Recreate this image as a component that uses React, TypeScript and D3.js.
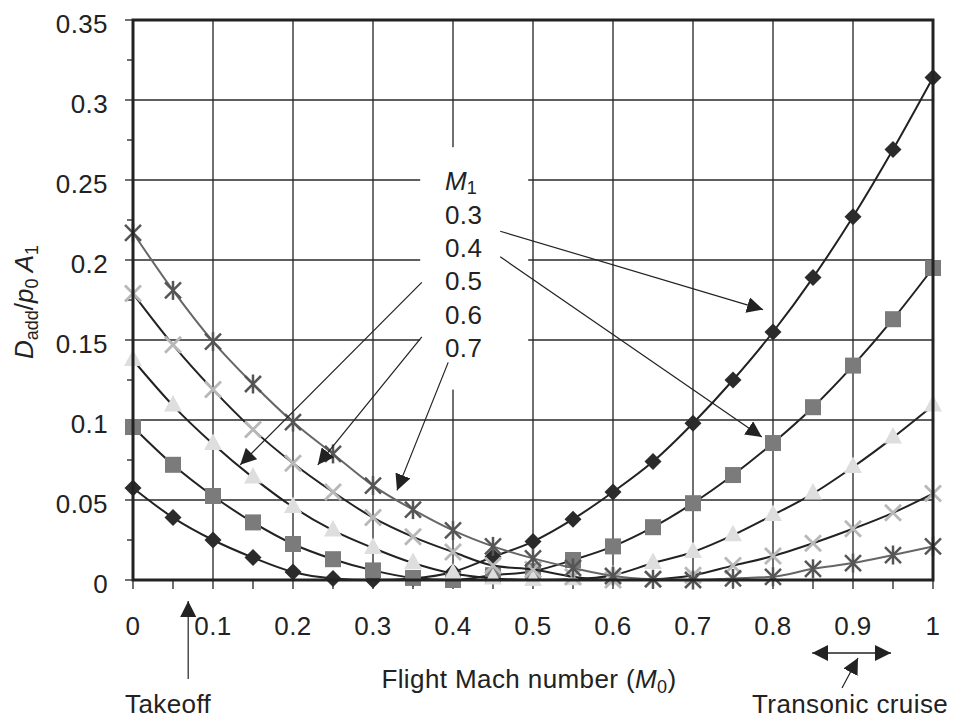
import React, { useEffect, useRef } from 'react';
import * as d3 from 'd3';

// flight Mach number M0, one marker every 0.05
const machNumbers = [0, 0.05, 0.1, 0.15, 0.2, 0.25, 0.3, 0.35, 0.4, 0.45, 0.5, 0.55, 0.6, 0.65, 0.7, 0.75, 0.8, 0.85, 0.9, 0.95, 1.0];

// D_add / p0 A1 for each inlet Mach number M1
const dragM03 = [0.0575, 0.039, 0.025, 0.014, 0.005, 0.001, 0, 0.001, 0.005, 0.0145, 0.024, 0.038, 0.055, 0.074, 0.098, 0.125, 0.155, 0.189, 0.227, 0.269, 0.314];
const dragM04 = [0.0956, 0.072, 0.0525, 0.036, 0.0225, 0.013, 0.006, 0.0013, 0, 0.003, 0.0055, 0.0125, 0.021, 0.033, 0.048, 0.0656, 0.0856, 0.108, 0.134, 0.163, 0.195];
const dragM05 = [0.1375, 0.109, 0.085, 0.064, 0.0456, 0.031, 0.02, 0.0106, 0.004, 0.001, 0, 0.0005, 0.003, 0.0106, 0.0175, 0.028, 0.0406, 0.054, 0.0706, 0.089, 0.109];
const dragM06 = [0.179, 0.147, 0.119, 0.094, 0.073, 0.055, 0.039, 0.027, 0.0175, 0.009, 0.0065, 0.002, 0, 0.0005, 0.003, 0.009, 0.015, 0.023, 0.032, 0.042, 0.054];
const dragM07 = [0.217, 0.181, 0.149, 0.1225, 0.0987, 0.0788, 0.059, 0.044, 0.031, 0.021, 0.0135, 0.0075, 0.0025, 0.0005, 0, 0.001, 0.002, 0.007, 0.0106, 0.0156, 0.021];

const inletLabels = ['0.3', '0.4', '0.5', '0.6', '0.7'];
const xTicks = [0, 0.1, 0.2, 0.3, 0.4, 0.5, 0.6, 0.7, 0.8, 0.9, 1];
const xTickLabels = ['0', '0.1', '0.2', '0.3', '0.4', '0.5', '0.6', '0.7', '0.8', '0.9', '1'];
const yTicks = [0, 0.05, 0.1, 0.15, 0.2, 0.25, 0.3, 0.35];
const yTickLabels = ['0', '0.05', '0.1', '0.15', '0.2', '0.25', '0.3', '0.35'];

// leader arrows from the M1 list: [fromM0, fromD, toM0, toD]
const leaderArrows = [
  [0.459, 0.218, 0.7875, 0.169],
  [0.459, 0.202, 0.786, 0.0894],
  [0.361, 0.186, 0.134, 0.072],
  [0.361, 0.152, 0.231, 0.072],
  [0.394, 0.136, 0.33, 0.056],
];

const series = [
  { values: dragM03, marker: 'diamond', fill: '#2b2b2b', line: '#222' },
  { values: dragM04, marker: 'square', fill: '#7b7b7b', line: '#222' },
  { values: dragM05, marker: 'triangle', fill: '#dedede', line: '#222' },
  { values: dragM06, marker: 'cross', fill: '#b8b8b8', line: '#222' },
  { values: dragM07, marker: 'star', fill: '#555', line: '#666' },
];

const App = () => {
  const svgRef = useRef<SVGSVGElement>(null);

  useEffect(() => {
    const width = 955;
    const height = 721;
    const margin = { top: 20, right: 22, bottom: 141, left: 133 };
    const font = '"Liberation Sans", Arial, Helvetica, sans-serif';
    const ink = '#222';
    const fs = 26;
    const sub = 18;
    const ls = 0.4;

    const svg = d3.select(svgRef.current)
      .attr('width', width)
      .attr('height', height);
    svg.selectAll('*').remove();

    const x = d3.scaleLinear().domain([0, 1]).range([margin.left, width - margin.right]);
    const y = d3.scaleLinear().domain([0, 0.35]).range([height - margin.bottom, margin.top]);

    const defs = svg.append('defs');
    defs.append('marker')
      .attr('id', 'head')
      .attr('viewBox', '0 0 10 10')
      .attr('refX', 10)
      .attr('refY', 5)
      .attr('markerWidth', 16)
      .attr('markerHeight', 16)
      .attr('markerUnits', 'userSpaceOnUse')
      .attr('orient', 'auto-start-reverse')
      .append('path')
      .attr('d', 'M0,0 L10,5 L0,10 Z')
      .attr('fill', ink);

    svg.append('rect').attr('width', width).attr('height', height).attr('fill', '#fff');

    // grid
    const g = svg.append('g');
    g.selectAll('.vgrid')
      .data(xTicks.slice(1, -1))
      .join('line')
      .attr('x1', d => x(d)).attr('x2', d => x(d))
      .attr('y1', y(0.35)).attr('y2', y(0))
      .attr('stroke', '#333').attr('stroke-width', 1.4);
    g.selectAll('.hgrid')
      .data(yTicks.slice(1, -1))
      .join('line')
      .attr('x1', x(0)).attr('x2', x(1))
      .attr('y1', d => y(d)).attr('y2', d => y(d))
      .attr('stroke', '#2a2a2a').attr('stroke-width', 1.4);

    // white block behind the M1 list
    g.append('rect')
      .attr('x', x(0.359)).attr('y', y(0.2705))
      .attr('width', x(0.494) - x(0.359))
      .attr('height', y(0.119) - y(0.2705))
      .attr('fill', '#fff');

    // axis ticks
    g.selectAll('.ytick')
      .data(d3.range(0, 0.351, 0.025))
      .join('line')
      .attr('x1', (d, i) => x(0) - (i % 2 === 0 ? 8 : 6)).attr('x2', x(0))
      .attr('y1', d => y(d)).attr('y2', d => y(d))
      .attr('stroke', ink).attr('stroke-width', 1.3);
    g.selectAll('.xtick')
      .data(d3.range(0, 1.001, 0.05))
      .join('line')
      .attr('x1', d => x(d)).attr('x2', d => x(d))
      .attr('y1', y(0)).attr('y2', y(0) + 9)
      .attr('stroke', ink).attr('stroke-width', 1.3);

    g.selectAll('.ylab')
      .data(yTicks)
      .join('text')
      .attr('x', x(0) - 25)
      .attr('y', d => y(d) + 13)
      .attr('text-anchor', 'end')
      .attr('font-family', font).attr('font-size', fs).attr('letter-spacing', ls).attr('fill', ink)
      .text((d, i) => yTickLabels[i]);
    g.selectAll('.xlab')
      .data(xTicks)
      .join('text')
      .attr('x', d => x(d))
      .attr('y', y(0) + 55)
      .attr('text-anchor', 'middle')
      .attr('font-family', font).attr('font-size', fs).attr('letter-spacing', ls).attr('fill', ink)
      .text((d, i) => xTickLabels[i]);

    // curves and markers
    const line = d3.line<number>()
      .x((d, i) => x(machNumbers[i]))
      .y(d => y(d))
      .curve(d3.curveMonotoneX);

    series.forEach(s => {
      g.append('path')
        .datum(s.values)
        .attr('d', line)
        .attr('fill', 'none')
        .attr('stroke', s.line)
        .attr('stroke-width', 2);

      const pts = g.append('g');
      s.values.forEach((v, i) => {
        const cx = x(machNumbers[i]);
        const cy = y(v);
        if (s.marker === 'diamond') {
          pts.append('path')
            .attr('d', `M${cx},${cy - 8.5}L${cx + 8.5},${cy}L${cx},${cy + 8.5}L${cx - 8.5},${cy}Z`)
            .attr('fill', s.fill);
        } else if (s.marker === 'square') {
          pts.append('rect')
            .attr('x', cx - 8).attr('y', cy - 8)
            .attr('width', 16).attr('height', 16)
            .attr('fill', s.fill);
        } else if (s.marker === 'triangle') {
          pts.append('path')
            .attr('d', `M${cx},${cy - 10.5}L${cx + 9},${cy + 6}L${cx - 9},${cy + 6}Z`)
            .attr('fill', s.fill);
        } else {
          const r = 8;
          const p = pts.append('g')
            .attr('stroke', s.fill)
            .attr('stroke-width', s.marker === 'cross' ? 2.8 : 2.5);
          p.append('line').attr('x1', cx - r).attr('y1', cy - r).attr('x2', cx + r).attr('y2', cy + r);
          p.append('line').attr('x1', cx - r).attr('y1', cy + r).attr('x2', cx + r).attr('y2', cy - r);
          if (s.marker === 'star') {
            p.append('line').attr('x1', cx).attr('y1', cy - r - 1.5).attr('x2', cx).attr('y2', cy + r + 1.5);
          }
        }
      });
    });

    // frame
    g.append('rect')
      .attr('x', x(0)).attr('y', y(0.35))
      .attr('width', x(1) - x(0)).attr('height', y(0) - y(0.35))
      .attr('fill', 'none').attr('stroke', ink).attr('stroke-width', 3);

    // M1 list
    const lx = x(0.39);
    const legend = g.append('text')
      .attr('x', lx).attr('y', 190)
      .attr('font-family', font).attr('font-size', fs).attr('fill', ink);
    legend.append('tspan').attr('font-style', 'italic').text('M');
    legend.append('tspan').attr('font-size', sub).attr('dy', 4).text('1');
    inletLabels.forEach((t, i) => {
      g.append('text')
        .attr('x', lx).attr('y', 224 + i * 33.2)
        .attr('font-family', font).attr('font-size', fs).attr('letter-spacing', ls).attr('fill', ink)
        .text(t);
    });

    g.selectAll('.leader')
      .data(leaderArrows)
      .join('line')
      .attr('x1', d => x(d[0])).attr('y1', d => y(d[1]))
      .attr('x2', d => x(d[2])).attr('y2', d => y(d[3]))
      .attr('stroke', ink).attr('stroke-width', 1.2)
      .attr('marker-end', 'url(#head)');

    // axis titles
    const yTitle = g.append('text')
      .attr('transform', `translate(33, 302) rotate(-90)`)
      .attr('text-anchor', 'middle')
      .attr('font-family', font).attr('font-size', fs).attr('fill', ink);
    yTitle.append('tspan').attr('font-style', 'italic').text('D');
    yTitle.append('tspan').attr('font-size', sub).attr('dy', 5).text('add');
    yTitle.append('tspan').attr('dy', -5).text('/');
    yTitle.append('tspan').attr('font-style', 'italic').text('p');
    yTitle.append('tspan').attr('font-size', sub).attr('dy', 5).text('0');
    yTitle.append('tspan').attr('dy', -5).attr('font-style', 'italic').text(' A');
    yTitle.append('tspan').attr('font-size', sub).attr('dy', 5).text('1');

    const xTitle = g.append('text')
      .attr('x', 529).attr('y', 688)
      .attr('text-anchor', 'middle')
      .attr('font-family', font).attr('font-size', fs).attr('letter-spacing', ls).attr('fill', ink);
    xTitle.append('tspan').text('Flight Mach number (');
    xTitle.append('tspan').attr('font-style', 'italic').text('M');
    xTitle.append('tspan').attr('font-size', sub).attr('dy', 5).text('0');
    xTitle.append('tspan').attr('dy', -5).text(')');

    // takeoff and cruise notes
    g.append('line')
      .attr('x1', x(0.069)).attr('y1', 679)
      .attr('x2', x(0.069)).attr('y2', 601)
      .attr('stroke', ink).attr('stroke-width', 1.2)
      .attr('marker-end', 'url(#head)');
    g.append('text')
      .attr('x', 125).attr('y', 713)
      .attr('font-family', font).attr('font-size', fs).attr('letter-spacing', ls).attr('fill', ink)
      .text('Takeoff');

    g.append('line')
      .attr('x1', x(0.849)).attr('y1', 653)
      .attr('x2', x(0.9475)).attr('y2', 653)
      .attr('stroke', ink).attr('stroke-width', 1.5)
      .attr('marker-start', 'url(#head)')
      .attr('marker-end', 'url(#head)');
    g.append('line')
      .attr('x1', 842).attr('y1', 688)
      .attr('x2', 858).attr('y2', 658)
      .attr('stroke', ink).attr('stroke-width', 1.2)
      .attr('marker-end', 'url(#head)');
    g.append('text')
      .attr('x', 752).attr('y', 713)
      .attr('font-family', font).attr('font-size', fs).attr('letter-spacing', ls).attr('fill', ink)
      .text('Transonic cruise');
  }, []);

  return (
    <div style={{ position: 'absolute', left: 0, top: 0 }}>
      <svg ref={svgRef} style={{ display: 'block' }}></svg>
    </div>
  );
};

export default App;
